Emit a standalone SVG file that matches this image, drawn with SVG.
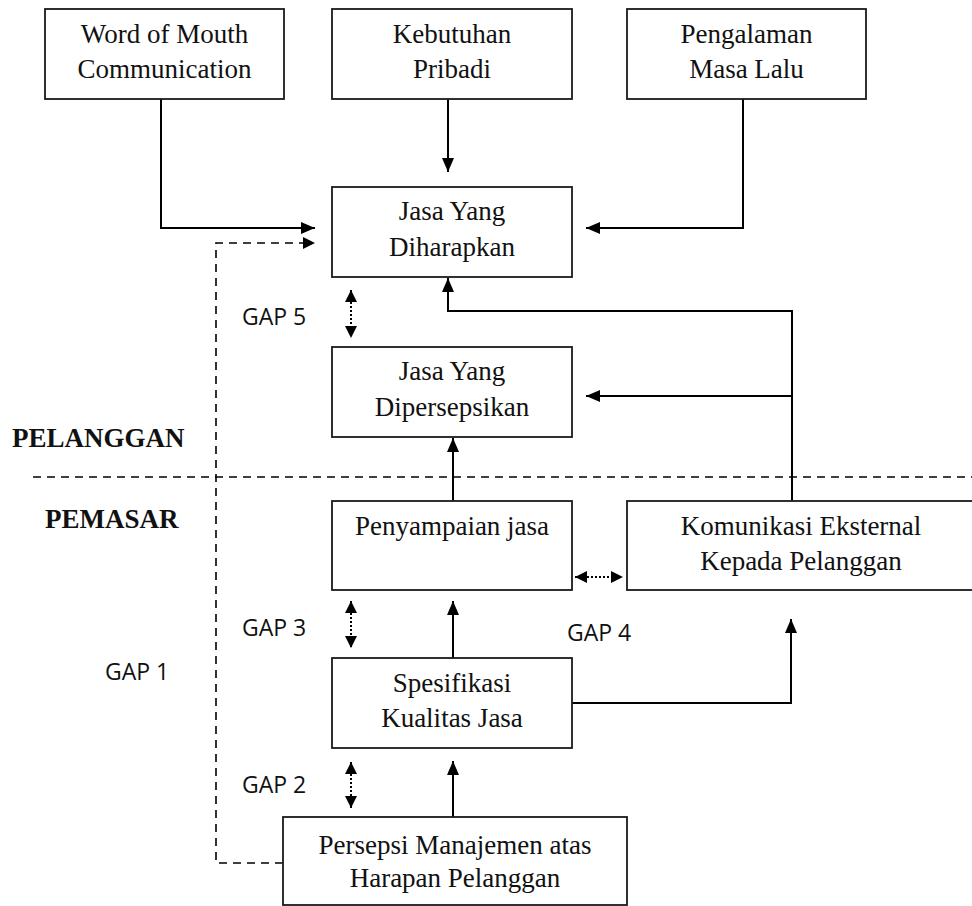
<svg xmlns="http://www.w3.org/2000/svg" width="972" height="906" viewBox="0 0 972 906">
<style>
.box{fill:#fff;stroke:#1a1a1a;stroke-width:1.8}
.t{font-family:"Liberation Serif","Times New Roman",serif;font-size:27px;fill:#111;text-anchor:middle}
.b{font-family:"Liberation Serif","Times New Roman",serif;font-size:27px;font-weight:bold;fill:#111}
.g{font-family:"Open Sans","Noto Sans",sans-serif;font-size:23px;fill:#111}
.ln{fill:none;stroke:#000;stroke-width:2}
.ds{fill:none;stroke:#000;stroke-width:1.6;stroke-dasharray:8 6}
.dt{fill:none;stroke:#000;stroke-width:2;stroke-dasharray:2 2}
</style>
<defs>
<marker id="ah" markerWidth="14" markerHeight="12" refX="14" refY="6" orient="auto" markerUnits="userSpaceOnUse"><path d="M0,0 L14,6 L0,12 Z" fill="#000"/></marker>
<marker id="ahs" markerWidth="12" markerHeight="12" refX="12" refY="6" orient="auto-start-reverse" markerUnits="userSpaceOnUse"><path d="M0,0 L12,6 L0,12 Z" fill="#000"/></marker>
</defs>

<g id="connectors">
<path class="ln" d="M161,99 V228 H315" marker-end="url(#ah)"/>
<path class="ds" d="M283,863 H216 V243 H310"/>
<path d="M303,237 L315,243 L303,249 Z" fill="#000"/>
<path class="ln" d="M448,99 V172" marker-end="url(#ah)"/>
<path class="ln" d="M743,99 V228 H586" marker-end="url(#ah)"/>
<path class="ln" d="M792,501 V311 H448 V278" marker-end="url(#ah)"/>
<path class="ln" d="M792,396 H586" marker-end="url(#ah)"/>
<path class="ln" d="M453,501 V438" marker-end="url(#ah)"/>
<path class="ln" d="M453,658 V601" marker-end="url(#ah)"/>
<path class="ln" d="M453,817 V761" marker-end="url(#ah)"/>
<path class="ln" d="M572,703 H791 V619" marker-end="url(#ah)"/>
<path class="dt" d="M351,290 V338" marker-start="url(#ahs)" marker-end="url(#ahs)"/>
<path class="dt" d="M351,601 V648" marker-start="url(#ahs)" marker-end="url(#ahs)"/>
<path class="dt" d="M351,762 V808" marker-start="url(#ahs)" marker-end="url(#ahs)"/>
<path class="dt" d="M575,577 H623" marker-start="url(#ahs)" marker-end="url(#ahs)"/>
<path class="ds" d="M33,477 H972"/>
</g>

<g id="wom"><rect class="box" x="45" y="9" width="239" height="90"/><text class="t" x="164.5" y="43">Word of Mouth</text><text class="t" x="164.5" y="78">Communication</text></g>
<g id="kebutuhan"><rect class="box" x="332" y="9" width="240" height="90"/><text class="t" x="452" y="43">Kebutuhan</text><text class="t" x="452" y="78">Pribadi</text></g>
<g id="pengalaman"><rect class="box" x="627" y="9" width="239" height="90"/><text class="t" x="746.5" y="43">Pengalaman</text><text class="t" x="746.5" y="78">Masa Lalu</text></g>
<g id="diharapkan"><rect class="box" x="332" y="187" width="240" height="90"/><text class="t" x="452" y="220">Jasa Yang</text><text class="t" x="452" y="256">Diharapkan</text></g>
<g id="dipersepsikan"><rect class="box" x="332" y="347" width="240" height="90"/><text class="t" x="452" y="380">Jasa Yang</text><text class="t" x="452" y="416">Dipersepsikan</text></g>
<g id="penyampaian"><rect class="box" x="332" y="501" width="240" height="89"/><text class="t" x="452" y="535">Penyampaian jasa</text></g>
<g id="komunikasi"><rect class="box" x="627" y="501" width="360" height="89"/><text class="t" x="801" y="535">Komunikasi Eksternal</text><text class="t" x="801" y="570">Kepada Pelanggan</text></g>
<g id="spesifikasi"><rect class="box" x="332" y="658" width="240" height="90"/><text class="t" x="452" y="692">Spesifikasi</text><text class="t" x="452" y="727">Kualitas Jasa</text></g>
<g id="persepsi"><rect class="box" x="283" y="817" width="344" height="88"/><text class="t" x="455" y="854">Persepsi Manajemen atas</text><text class="t" x="455" y="887">Harapan Pelanggan</text></g>

<g id="labels">
<text class="b" x="12" y="447">PELANGGAN</text>
<text class="b" x="45" y="528">PEMASAR</text>
<text class="g" x="242" y="325">GAP 5</text>
<text class="g" x="242" y="636">GAP 3</text>
<text class="g" x="567" y="641">GAP 4</text>
<text class="g" x="105" y="680">GAP 1</text>
<text class="g" x="242" y="793">GAP 2</text>
</g>
</svg>
